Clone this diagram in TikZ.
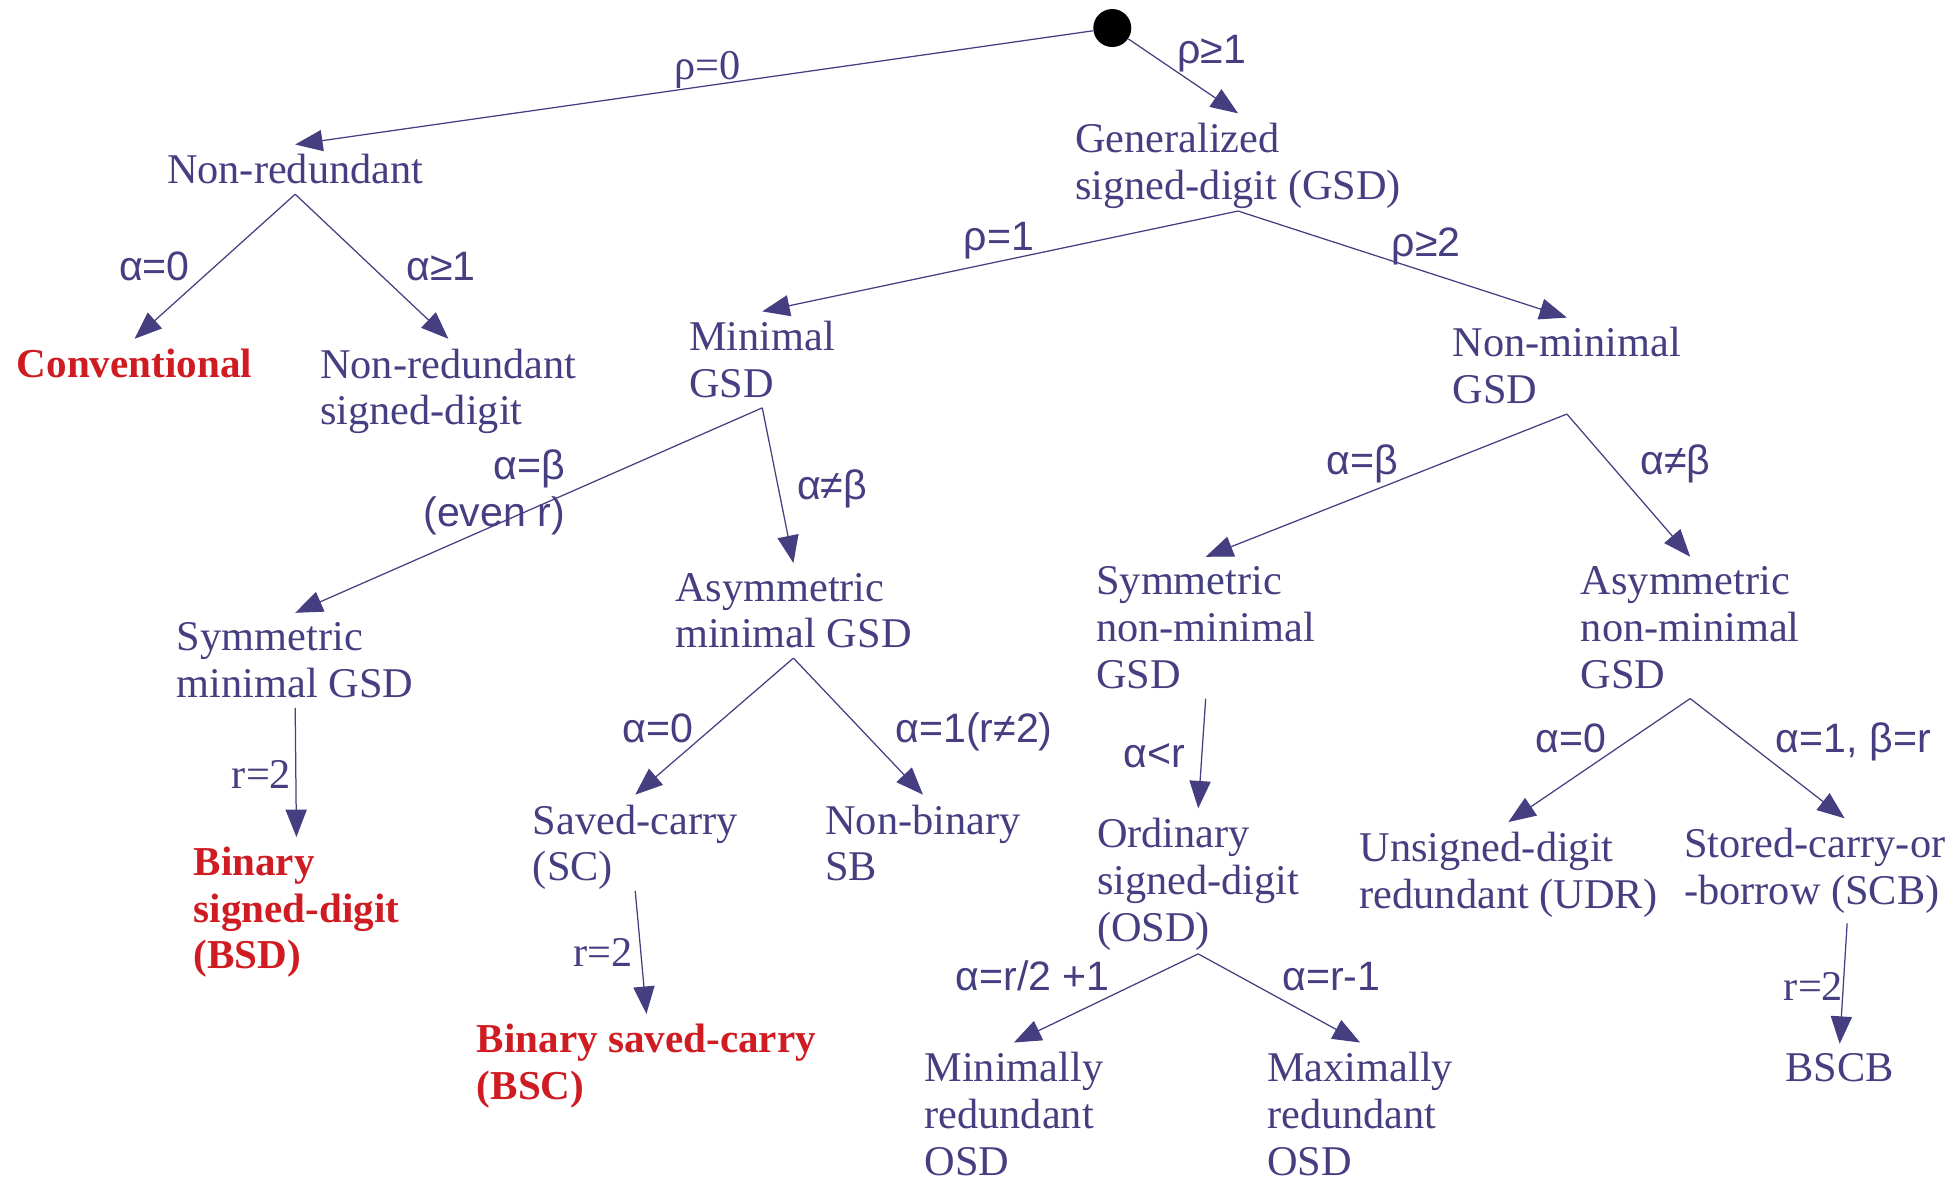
\documentclass[tikz,border=0pt]{standalone}
\usepackage{fontspec}
\setmainfont{Liberation Serif}
\setsansfont{Liberation Sans}
\usetikzlibrary{arrows.meta,calc}
\definecolor{tblue}{RGB}{69,62,128}
\definecolor{tred}{RGB}{206,28,34}
\begin{document}
\begin{tikzpicture}[x=0.5pt,y=-0.5pt,
  tx/.style={text=tblue,font=\fontsize{17}{18.75}\selectfont,align=left,inner sep=0pt,outer xsep=0pt,outer ysep=4pt,anchor=north},
  rd/.style={tx,text=tred,font=\fontsize{16.5}{18.75}\selectfont\bfseries},
  lb/.style={text=tblue,font=\sffamily\fontsize{16.5}{18.5}\selectfont,inner sep=0pt,anchor=base},
  ls/.style={text=tblue,font=\fontsize{17}{18.75}\selectfont,inner sep=0pt,anchor=base},
  arr/.style={draw=tblue,line width=0.5pt,-{Triangle[length=11pt,width=8.5pt]}}]
\useasboundingbox (0,0) rectangle (1568,949);
% root
\node[circle,fill=black,inner sep=0pt,minimum size=15.25pt] (root) at (893,22.5) {};
% nodes
\node[tx] (nr) at (237,116) {Non-redundant};
\node[tx] (gsd) at (994,91) {Generalized\\signed-digit (GSD)};
\node[rd] (conv) at (108,272) {Conventional};
\node[tx] (nrsd) at (360,272) {Non-redundant\\signed-digit};
\node[tx] (min) at (612,250) {Minimal\\GSD};
\node[tx] (nonmin) at (1258,255) {Non-minimal\\GSD};
\node[tx] (symmin) at (237,492) {Symmetric\\minimal GSD};
\node[tx] (asymmin) at (637,452) {Asymmetric\\minimal GSD};
\node[tx] (symnm) at (968,447) {Symmetric\\non-minimal\\GSD};
\node[tx] (asymnm) at (1357,447) {Asymmetric\\non-minimal\\GSD};
\node[rd] (bsd) at (238,672) {Binary\\signed-digit\\(BSD)};
\node[tx] (sc) at (510,638) {Saved-carry\\(SC)};
\node[tx] (nbsb) at (741,638) {Non-binary\\SB};
\node[tx] (osd) at (962,649) {Ordinary\\signed-digit\\(OSD)};
\node[tx] (udr) at (1211,660) {Unsigned-digit\\redundant (UDR)};
\node[tx] (scb) at (1457,657) {Stored-carry-or\\-borrow (SCB)};
\node[rd] (bsc) at (519,814) {Binary saved-carry\\(BSC)};
\node[tx] (minr) at (814,837) {Minimally\\redundant\\OSD};
\node[tx] (maxr) at (1092,837) {Maximally\\redundant\\OSD};
\node[tx] (bscb) at (1477,838) {BSCB};
% connectors
\draw[arr] (root) -- (nr.north);
\draw[arr] (root) -- (gsd.north);
\draw[arr] (nr.south) -- (conv.north);
\draw[arr] (nr.south) -- (nrsd.north);
\draw[arr] ([yshift=3pt]gsd.south) -- (min.north);
\draw[arr] ([yshift=3pt]gsd.south) -- (nonmin.north);
\draw[arr] (min.south) -- (symmin.north);
\draw[arr] (min.south) -- (asymmin.north);
\draw[arr] (nonmin.south) -- (symnm.north);
\draw[arr] (nonmin.south) -- (asymnm.north);
\draw[arr] (symmin.south) -- (bsd.north);
\draw[arr] (asymmin.south) -- (sc.north);
\draw[arr] (asymmin.south) -- (nbsb.north);
\draw[arr] ([yshift=3.5pt]sc.south) -- (bsc.north);
\draw[arr] (symnm.south) -- (osd.north);
\draw[arr] ([yshift=2.5pt]osd.south) -- (minr.north);
\draw[arr] ([yshift=2.5pt]osd.south) -- (maxr.north);
\draw[arr] (asymnm.south) -- (udr.north);
\draw[arr] (asymnm.south) -- ([xshift=12pt]scb.north);
\draw[arr] ([xshift=13pt]scb.south) -- (bscb.north);
% labels
\node[ls] (l1) at (568,64) {ρ=0};
\node[lb] (l2) at (973,51) {ρ≥1};
\node[lb] (l3) at (124,225) {α=0};
\node[lb] (l4) at (354,225) {α≥1};
\node[lb] (l5) at (802,201) {ρ=1};
\node[lb] (l6) at (1145,206) {ρ≥2};
\node[lb,anchor=north east,align=right] (l7) at (454,361) {α=β\\(even r)};
\node[lb] (l8) at (668,401) {α≠β};
\node[lb] (l9) at (1094,381) {α=β};
\node[lb] (l10) at (1345,381) {α≠β};
\node[ls] (l11) at (210,633) {r=2};
\node[lb] (l12) at (528,596) {α=0};
\node[lb] (l13) at (782,596) {α=1(r≠2)};
\node[ls] (l14) at (484,776) {r=2};
\node[lb] (l15) at (927,616) {α<r};
\node[lb] (l16) at (829,795) {α=r/2 +1};
\node[lb] (l17) at (1069,795) {α=r-1};
\node[lb] (l18) at (1261,604) {α=0};
\node[lb] (l19) at (1488,604) {α=1, β=r};
\node[ls] (l20) at (1456,803) {r=2};
\end{tikzpicture}
\end{document}
